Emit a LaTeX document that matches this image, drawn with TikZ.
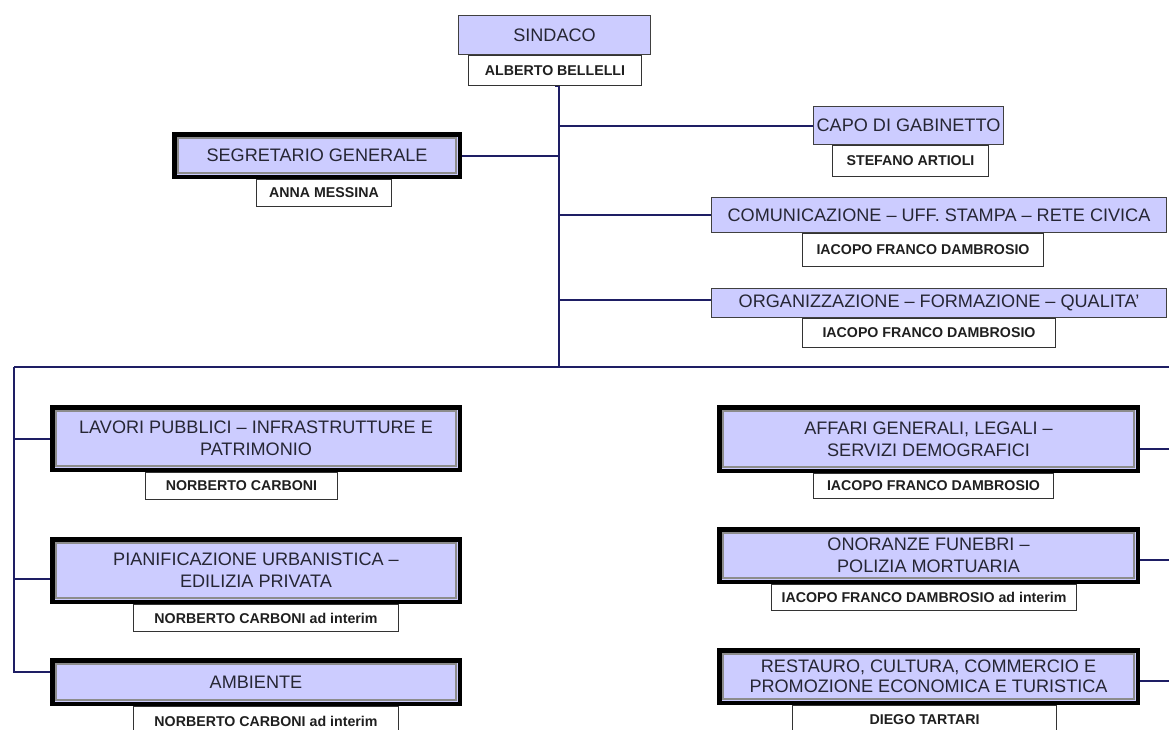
\documentclass[tikz,border=0pt]{standalone}
\usepackage{fontspec}
\setmainfont{Liberation Sans}
\definecolor{lav}{RGB}{204,204,255}
\definecolor{navy}{RGB}{30,30,100}
\definecolor{txt}{RGB}{38,38,52}
\tikzset{
  sz/.style 2 args={minimum width=#1pt, minimum height=#2pt},
  unit/.style={draw=black!75, line width=1.3pt, fill=lav, text=txt, inner sep=0pt, align=center,
    font=\fontsize{18.1}{22}\selectfont},
  bigunit/.style={draw=black, line width=4.5pt, fill=lav, text=txt, inner sep=0pt, align=center,
    font=\fontsize{18.1}{22}\selectfont},
  namebox/.style={draw=black!80, line width=1pt, fill=white, text=black!88, inner sep=0pt,
    font=\bfseries\fontsize{14.2}{16}\selectfont},
  link/.style={draw=navy, line width=2pt},
  innerline/.style={draw=black!45, line width=1.2pt}
}
\newcommand\innerframe[1]{\draw[innerline] ([shift={(6pt,-6pt)}]#1.north west) rectangle ([shift={(-6pt,6pt)}]#1.south east);}
\begin{document}
\begin{tikzpicture}[x=1pt,y=-1pt]
\fill[white] (0,0) rectangle (1169,729);
\useasboundingbox (0,0) rectangle (1169,729);

% junction coordinates
\coordinate (J) at (559,367);
\coordinate (LB) at (14,367);
\coordinate (RB) at (1172,367);

% connectors
\draw[link] (555,86) -| (J);
\draw[link] (LB) -- (RB);

% name boxes
\node[namebox, sz={173}{30}] (ALB) at (555,70.5) {ALBERTO BELLELLI};
\node[namebox, sz={135}{27}] (ANNA) at (324,193) {ANNA MESSINA};
\node[namebox, sz={156}{31}] (STEF) at (910.5,161) {STEFANO ARTIOLI};
\node[namebox, sz={241}{33}] (IAC1) at (923,250) {IACOPO FRANCO DAMBROSIO};
\node[namebox, sz={253}{29}] (IAC2) at (929,333) {IACOPO FRANCO DAMBROSIO};
\node[namebox, sz={192}{27}] (NOR1) at (241.5,486) {NORBERTO CARBONI};
\node[namebox, sz={265}{27}] (NOR2) at (266,618) {NORBERTO CARBONI ad interim};
\node[namebox, sz={265}{29}] (NOR3) at (266,721) {NORBERTO CARBONI ad interim};
\node[namebox, sz={240}{25}] (IAC3) at (933.5,486) {IACOPO FRANCO DAMBROSIO};
\node[namebox, sz={305}{26}] (IAC4) at (924,597.5) {IACOPO FRANCO DAMBROSIO ad interim};
\node[namebox, sz={264}{29}] (DIEGO) at (924.5,720) {DIEGO TARTARI};

% units
\node[unit, sz={192}{39}] (SIN) at (554.5,35) {SINDACO};
\node[bigunit, sz={285.5}{42.5}] (SEG) at (317,155.5) {SEGRETARIO GENERALE};
\node[unit, sz={190}{38}] (CAPO) at (908.5,125.5) {CAPO DI GABINETTO};
\node[unit, sz={455}{35}] (COM) at (939,215) {COMUNICAZIONE – UFF. STAMPA – RETE CIVICA};
\node[unit, sz={455}{29}] (ORG) at (939,303) {ORGANIZZAZIONE – FORMAZIONE – QUALITA’};
\node[bigunit, sz={407.5}{62.5}] (LAV) at (256,438.5) {LAVORI PUBBLICI – INFRASTRUTTURE E\\PATRIMONIO};
\node[bigunit, sz={407.5}{62.5}] (PIAN) at (256,570.5) {PIANIFICAZIONE URBANISTICA –\\EDILIZIA PRIVATA};
\node[bigunit, sz={407.5}{43.5}] (AMB) at (256,682) {AMBIENTE};
\node[bigunit, sz={418.5}{63.5}] (AFF) at (928.5,439) {AFFARI GENERALI, LEGALI –\\SERVIZI DEMOGRAFICI};
\node[bigunit, sz={418.5}{52.5}] (ONO) at (928.5,555.5) {ONORANZE FUNEBRI –\\POLIZIA MORTUARIA};
\node[bigunit, sz={418.5}{52.5}, font=\fontsize{18.1}{20}\selectfont] (RES) at (928.5,676.5) {RESTAURO, CULTURA, COMMERCIO E\\PROMOZIONE ECONOMICA E TURISTICA};

\foreach \n in {SEG,LAV,PIAN,AMB,AFF,ONO,RES} {\innerframe{\n}}

% branch connectors
\draw[link] (SEG.east) -- (SEG.east -| J);
\draw[link] (CAPO.west) -- (CAPO.west -| J);
\draw[link] (COM.west) -- (COM.west -| J);
\draw[link] ([yshift=3pt]ORG.west) -- ([yshift=3pt]ORG.west -| J);
\draw[link] (LB) |- (LAV.west);
\draw[link] (LB) |- ([yshift=-8.5pt]PIAN.west);
\draw[link] (LB) |- ([yshift=10pt]AMB.west);
\draw[link] ([yshift=-10pt]AFF.east) -- ([yshift=-10pt]AFF.east -| RB);
\draw[link] ([yshift=-4.5pt]ONO.east) -- ([yshift=-4.5pt]ONO.east -| RB);
\draw[link] ([yshift=-4.5pt]RES.east) -- ([yshift=-4.5pt]RES.east -| RB);
\end{tikzpicture}
\end{document}
